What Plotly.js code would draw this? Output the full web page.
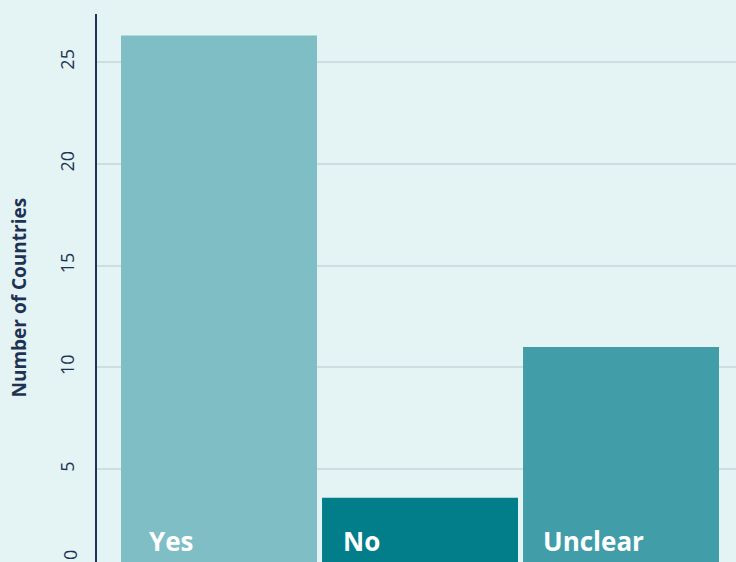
<!DOCTYPE html>
<html>
<head>
<meta charset="utf-8">
<script src="https://cdn.plot.ly/plotly-3.0.1.min.js"></script>
<style>
html,body{margin:0;padding:0;overflow:hidden;background:#e4f3f3;}
#chart{width:736px;height:631px;}
</style>
</head>
<body>
<div id="chart"></div>
<script>
const categories = ["Yes", "No", "Unclear"];
const values = [26.3, 3.6, 11.0];
const barColors = ["#80bec5", "#027d8a", "#419ea8"];
const yTickVals = [0, 5, 10, 15, 20, 25];
const yTitle = "Number of Countries";

const navy = "#1e3354";

const trace = {
  type: "bar",
  x: categories,
  y: values,
  marker: {color: barColors},
  hoverinfo: "none",
  showlegend: false
};

const labelShift = [0, -7, -8];
const annotations = categories.map((c, i) => ({
  x: i - 0.36,
  y: 0,
  xref: "x",
  yref: "y",
  text: "<b>" + c + "</b>",
  showarrow: false,
  xanchor: "left",
  yanchor: "middle",
  xshift: labelShift[i],
  yshift: 30,
  font: {family: "Open Sans", size: 26, color: "#ffffff"}
}));

// flush-aligned bottom tick label (kept inside the axis end as in the reference)
annotations.push({
  x: 0,
  y: yTickVals[0],
  xref: "paper",
  yref: "y",
  text: String(yTickVals[0]),
  textangle: -90,
  showarrow: false,
  xanchor: "center",
  yanchor: "middle",
  xshift: -27,
  yshift: 16,
  font: {family: "Open Sans", size: 18, color: navy}
});

// y-axis title
annotations.push({
  x: 0,
  y: 0.5,
  xref: "paper",
  yref: "paper",
  text: "<b>" + yTitle + "</b>",
  textangle: -90,
  showarrow: false,
  xanchor: "center",
  yanchor: "middle",
  xshift: -79,
  yshift: -5,
  font: {family: "Open Sans", size: 19, color: navy}
});

const layout = {
  width: 736,
  height: 631,
  margin: {l: 97, r: 0, t: 14, b: 60, pad: 0},
  paper_bgcolor: "#e4f3f3",
  plot_bgcolor: "#e4f3f3",
  bargap: 0.025,
  font: {family: "Open Sans", color: navy},
  xaxis: {
    type: "category",
    range: [-0.607, 2.572],
    showticklabels: false,
    showgrid: false,
    zeroline: false,
    ticks: ""
  },
  yaxis: {
    range: [0, 27.36],
    tickvals: yTickVals.slice(1),
    tickangle: -90,
    tickfont: {family: "Open Sans", size: 18, color: navy},
    ticklabelstandoff: 14,
    showgrid: true,
    gridcolor: "#cbdfe0",
    gridwidth: 2,
    zeroline: false,
    showline: true,
    linecolor: navy,
    linewidth: 2,
    ticks: ""
  },
  annotations: annotations
};

Plotly.newPlot("chart", [trace], layout, {displayModeBar: false, staticPlot: true});
</script>
</body>
</html>
